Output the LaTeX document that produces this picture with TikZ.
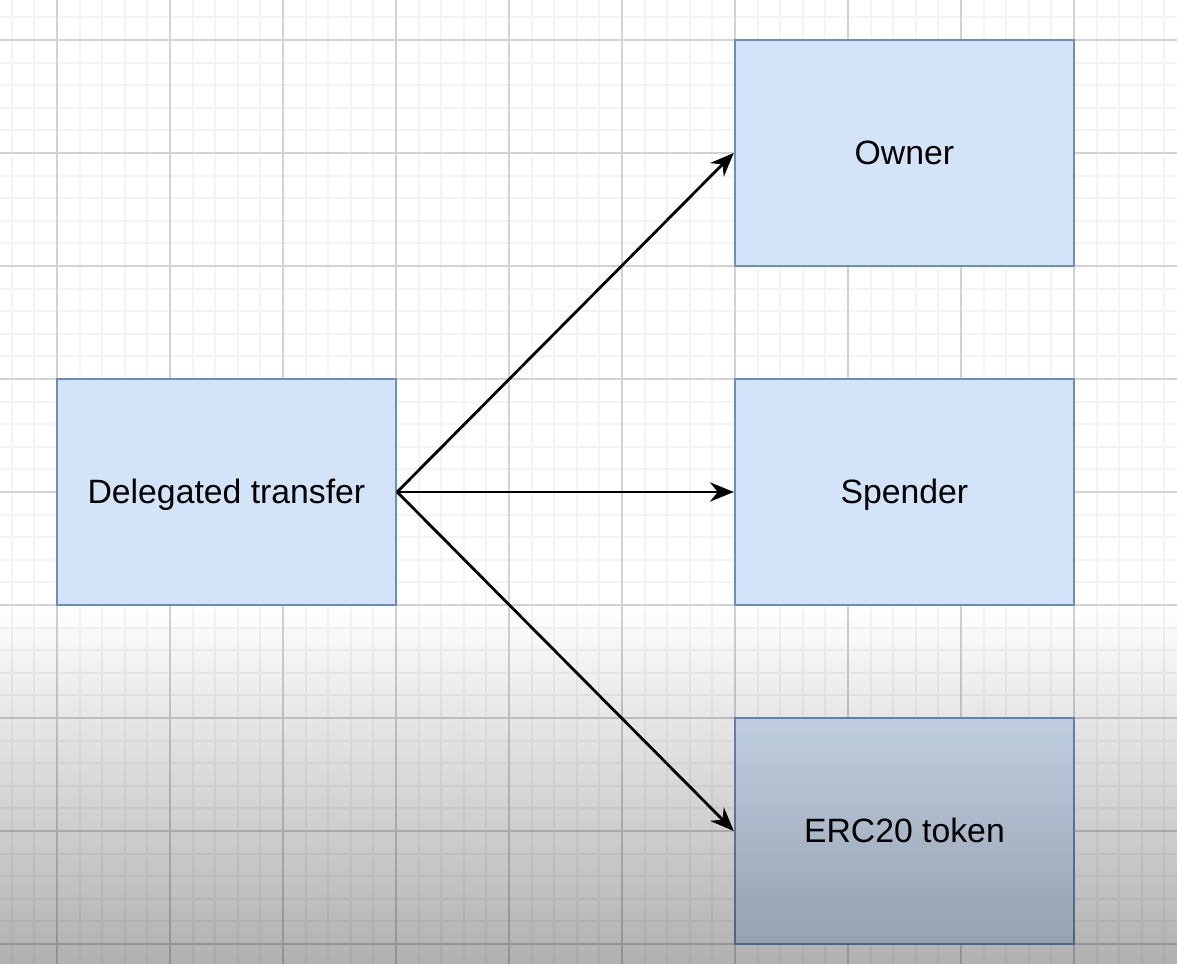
\documentclass[tikz,border=0pt]{standalone}
\usepackage{fontspec}
\setmainfont{Liberation Sans}
\usepackage{tikz}
\usetikzlibrary{arrows.meta,positioning,fadings}
\definecolor{boxfill}{HTML}{D4E4F8}
\definecolor{boxline}{HTML}{6C8EBF}
\definecolor{minorgrid}{HTML}{F4F4F4}
\definecolor{majorgrid}{HTML}{D2D2D2}
\tikzset{entity/.style={rectangle,draw=boxline,fill=boxfill,line width=0.6pt,
  minimum width=3cm,minimum height=2cm,inner sep=0pt,text height=0.22cm,text depth=0.02cm,
  font=\fontsize{8.5}{10}\selectfont}}
\tikzset{link/.style={-{Stealth[length=2.1mm,width=1.7mm]},line width=0.7pt,black}}

\begin{document}
\begin{tikzpicture}
\useasboundingbox (-0.504,0.354) rectangle (9.912,-8.177);
\clip (-0.504,0.354) rectangle (9.912,-8.177);
% background grid
\fill[white] (-0.6,0.4) rectangle (10,-8.2);
\draw[minorgrid,line width=0.5pt,step=0.2] (-0.6,0.4) grid (10,-8.2);
\draw[majorgrid,line width=0.4pt,step=1] (-0.6,0.4) grid (10,-8.2);
%
\node (transfer) [entity] at (1.5,-4) {Delegated transfer};
\node (owner) [entity] at (7.5,-1) {Owner};
\node (spender) [entity] at (7.5,-4) {Spender};
\node (token) [entity] at (7.5,-7) {ERC20 token};
%
\path[link](transfer.east) edge (owner.west);
\path[link](transfer.east) edge (spender.west);
\path[link](transfer.east) edge (token.west);
% darker lower part
\fill[black,fill opacity=0.31,path fading=north] (-0.6,-5.0) rectangle (10,-8.2);
\end{tikzpicture}
\end{document}
